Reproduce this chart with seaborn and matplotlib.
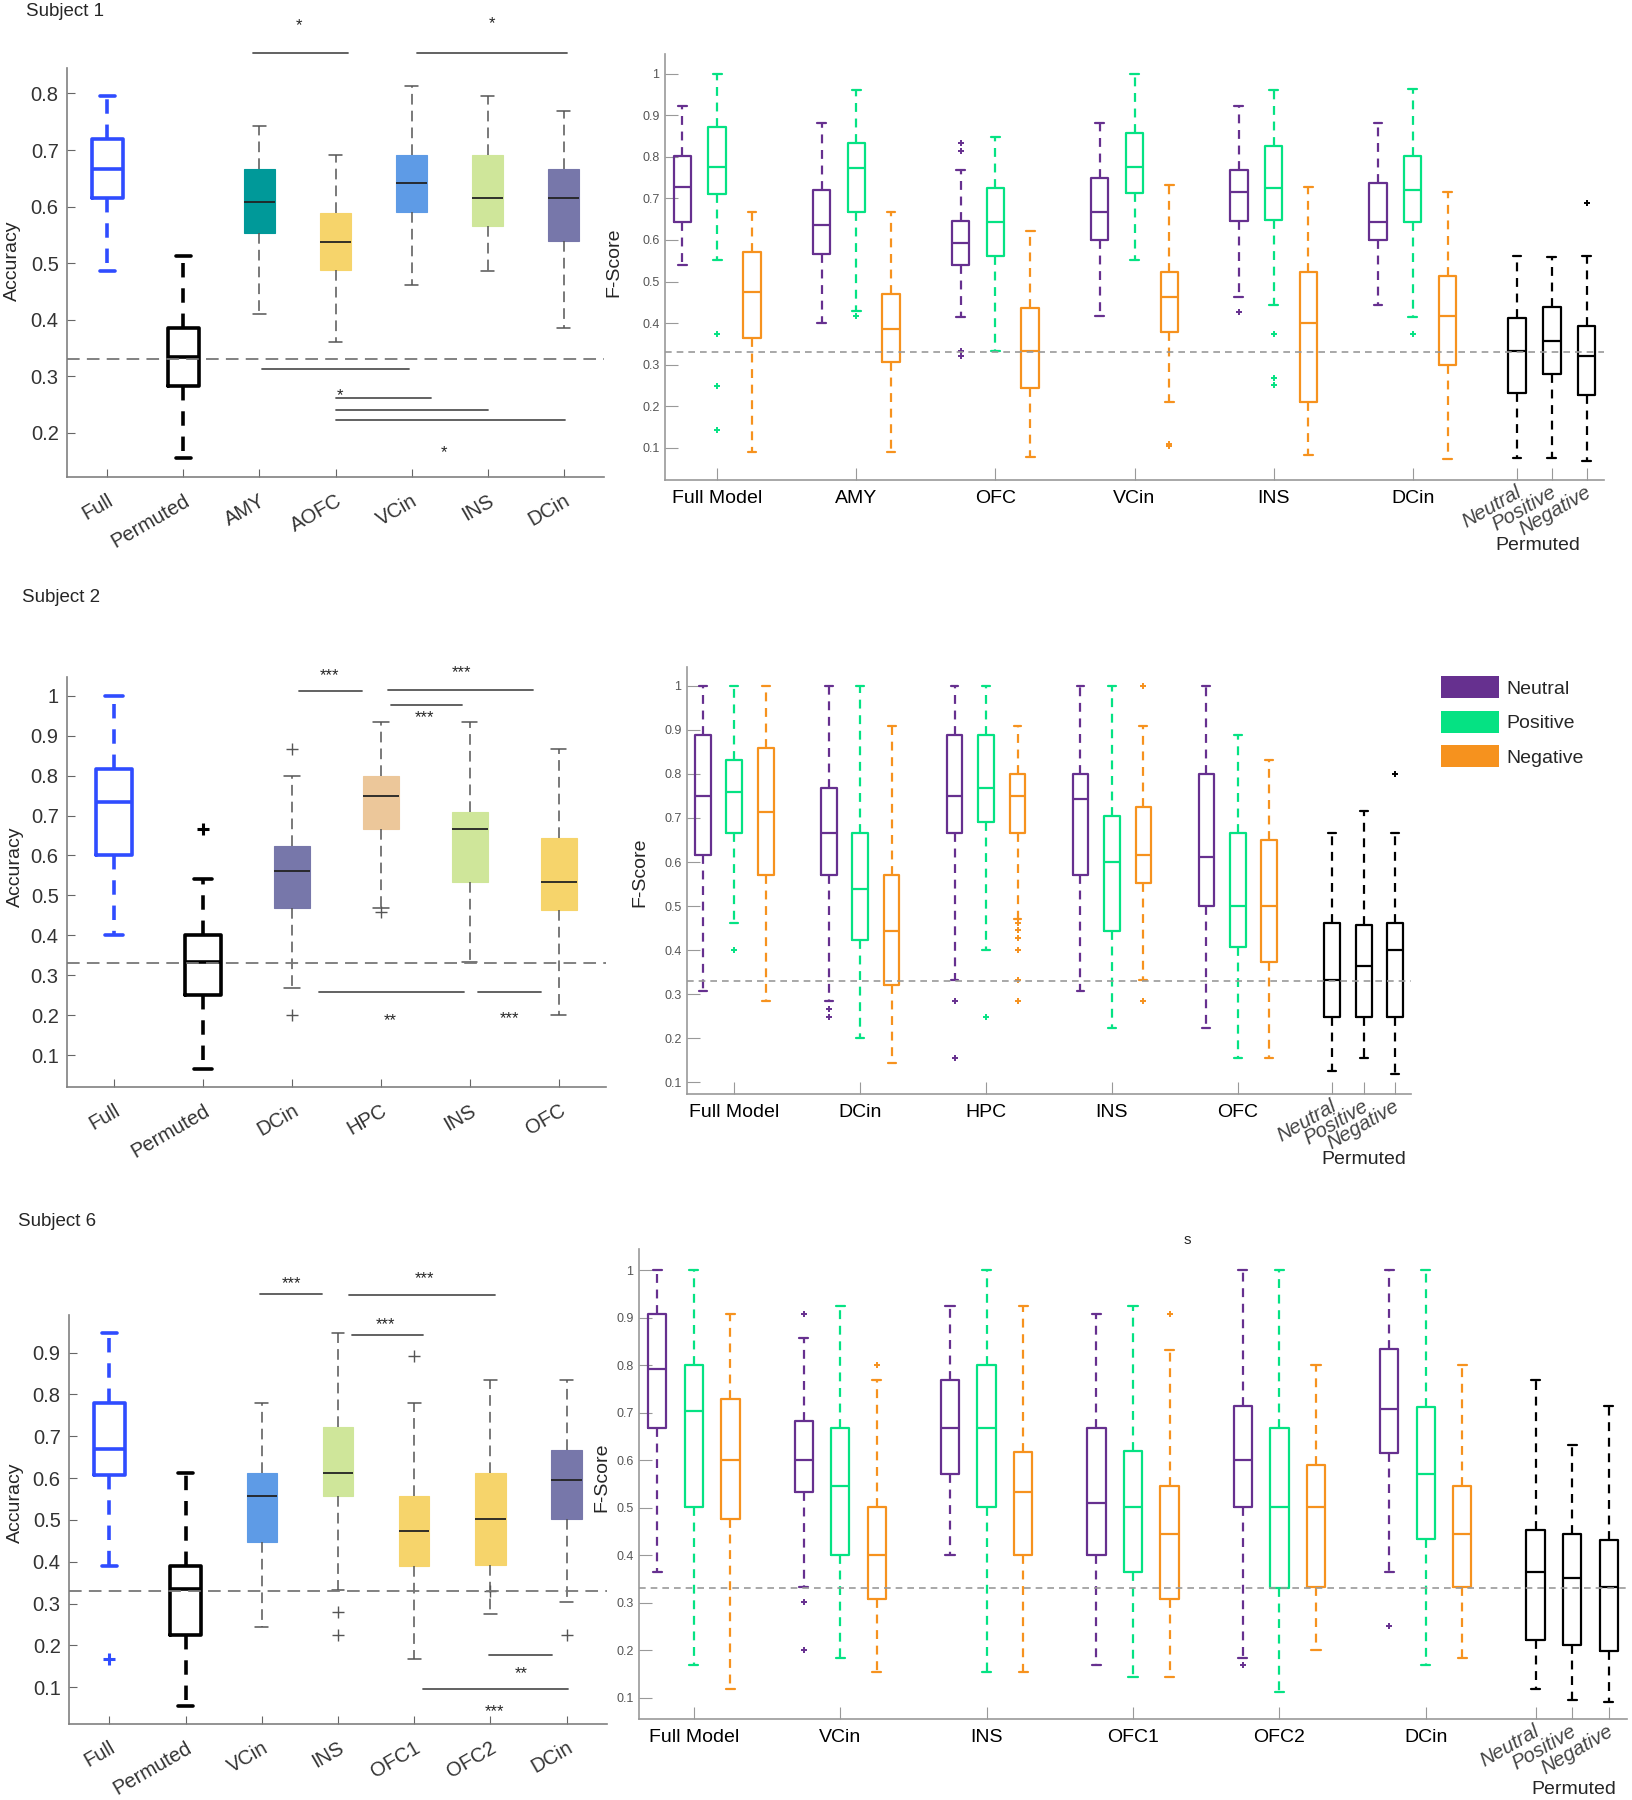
import numpy as np
import matplotlib
matplotlib.use("Agg")
import matplotlib.pyplot as plt
import matplotlib.transforms as mtransforms
from matplotlib.patches import Patch
import seaborn as sns

sns.set_style("ticks")
plt.rcParams["font.family"] = ["Liberation Sans", "DejaVu Sans"]

W, H = 1632, 1800

# colours
BLUE = "#2F4CFF"
TEAL = "#009999"
YELLOW = "#F6D46B"
SKY = "#5E9BE6"
LIME = "#CFE69A"
SLATE = "#7777AA"
TAN = "#ECC79A"
PURPLE = "#66308F"
GREEN = "#05E283"
ORANGE = "#F6921E"

# ---------------- data: [whisker low, q1, median, q3, whisker high] ----------------
# Subject 1 accuracy
s1_acc_labels = ["Full", "Permuted", "AMY", "AOFC", "VCin", "INS", "DCin"]
s1_acc_stats = [
    [0.487, 0.616, 0.667, 0.719, 0.795],
    [0.155, 0.283, 0.334, 0.386, 0.513],
    [0.411, 0.553, 0.609, 0.666, 0.743],
    [0.360, 0.488, 0.538, 0.589, 0.692],
    [0.462, 0.590, 0.642, 0.692, 0.813],
    [0.487, 0.565, 0.616, 0.692, 0.795],
    [0.385, 0.539, 0.616, 0.666, 0.769],
]
s1_acc_out = [[], [], [], [], [], [], []]
s1_acc_fill = [BLUE, "black", TEAL, YELLOW, SKY, LIME, SLATE]
# brackets: x0, x1, y, stars, star x, star y
s1_brackets = [
    (2.92, 4.16, 0.871, "*", 3.52, 0.929),
    (5.07, 7.05, 0.872, "*", 6.06, 0.932),
    (3.04, 4.96, 0.3136, "", 0, 0),
    (4.01, 5.25, 0.2625, "*", 4.06, 0.2745),
    (4.01, 6.00, 0.241, "", 0, 0),
    (4.01, 7.02, 0.2227, "*", 5.42, 0.175),
]

# Subject 1 F-score
s1_f_groups = ["Full Model", "AMY", "OFC", "VCin", "INS", "DCin"]
s1_f_neutral = [
    [0.540, 0.644, 0.728, 0.801, 0.923],
    [0.400, 0.567, 0.637, 0.720, 0.881],
    [0.416, 0.540, 0.592, 0.646, 0.769],
    [0.417, 0.600, 0.667, 0.750, 0.881],
    [0.462, 0.645, 0.715, 0.769, 0.923],
    [0.444, 0.600, 0.643, 0.737, 0.881],
]
s1_f_neutral_out = [[], [], [0.834, 0.815, 0.334, 0.321], [], [0.428], []]
s1_f_positive = [
    [0.552, 0.710, 0.775, 0.871, 1.0],
    [0.429, 0.667, 0.773, 0.834, 0.961],
    [0.332, 0.562, 0.642, 0.725, 0.848],
    [0.552, 0.712, 0.775, 0.856, 1.0],
    [0.444, 0.649, 0.725, 0.827, 0.961],
    [0.414, 0.644, 0.720, 0.801, 0.964],
]
s1_f_positive_out = [[0.375, 0.250, 0.143], [0.417], [], [], [0.375, 0.268, 0.251], [0.375]]
s1_f_negative = [
    [0.090, 0.364, 0.475, 0.571, 0.667],
    [0.090, 0.307, 0.385, 0.469, 0.667],
    [0.079, 0.245, 0.333, 0.436, 0.621],
    [0.210, 0.378, 0.463, 0.522, 0.733],
    [0.083, 0.210, 0.400, 0.522, 0.728],
    [0.074, 0.299, 0.417, 0.514, 0.715],
]
s1_f_negative_out = [[], [], [], [0.110, 0.104], [], []]
s1_f_perm = [
    [0.077, 0.233, 0.333, 0.413, 0.561],
    [0.077, 0.278, 0.357, 0.438, 0.559],
    [0.068, 0.227, 0.320, 0.394, 0.562],
]
s1_f_perm_out = [[], [], [0.690]]

# Subject 2 accuracy
s2_acc_labels = ["Full", "Permuted", "DCin", "HPC", "INS", "OFC"]
s2_acc_stats = [
    [0.400, 0.600, 0.734, 0.817, 1.0],
    [0.066, 0.250, 0.334, 0.400, 0.542],
    [0.267, 0.468, 0.562, 0.624, 0.800],
    [0.468, 0.667, 0.750, 0.800, 0.934],
    [0.333, 0.533, 0.666, 0.708, 0.934],
    [0.200, 0.463, 0.533, 0.644, 0.867],
]
s2_acc_out = [[], [0.666], [0.867, 0.200], [0.459], [], []]
s2_acc_fill = [BLUE, "black", SLATE, TAN, LIME, YELLOW]
s2_brackets = [
    (3.08, 3.79, 1.0115, "***", 3.42, 1.063),
    (4.08, 5.71, 1.014, "***", 4.90, 1.071),
    (4.11, 4.91, 0.977, "***", 4.49, 0.959),
    (3.30, 4.93, 0.257, "**", 4.10, 0.200),
    (5.09, 5.80, 0.258, "***", 5.45, 0.205),
]

# Subject 2 F-score
s2_f_groups = ["Full Model", "DCin", "HPC", "INS", "OFC"]
s2_f_neutral = [
    [0.308, 0.615, 0.749, 0.889, 1.0],
    [0.285, 0.571, 0.666, 0.769, 1.0],
    [0.333, 0.666, 0.749, 0.889, 1.0],
    [0.308, 0.571, 0.743, 0.800, 1.0],
    [0.222, 0.501, 0.612, 0.800, 1.0],
]
s2_f_neutral_out = [[], [0.266, 0.249], [0.285, 0.154], [], []]
s2_f_positive = [
    [0.461, 0.666, 0.760, 0.832, 1.0],
    [0.200, 0.422, 0.539, 0.666, 1.0],
    [0.400, 0.691, 0.769, 0.889, 1.0],
    [0.222, 0.444, 0.599, 0.705, 1.0],
    [0.154, 0.408, 0.501, 0.666, 0.889],
]
s2_f_positive_out = [[0.400], [], [0.249], [], []]
s2_f_negative = [
    [0.285, 0.571, 0.714, 0.860, 1.0],
    [0.143, 0.320, 0.444, 0.571, 0.909],
    [0.471, 0.666, 0.749, 0.800, 0.909],
    [0.333, 0.552, 0.615, 0.726, 0.909],
    [0.154, 0.373, 0.501, 0.649, 0.832],
]
s2_f_negative_out = [[], [], [0.461, 0.445, 0.428, 0.400, 0.333, 0.285], [1.0, 0.285], []]
s2_f_perm = [
    [0.125, 0.249, 0.333, 0.461, 0.666],
    [0.154, 0.249, 0.363, 0.457, 0.716],
    [0.118, 0.249, 0.400, 0.461, 0.666],
]
s2_f_perm_out = [[], [], [0.800]]

# Subject 6 accuracy
s6_acc_labels = ["Full", "Permuted", "VCin", "INS", "OFC1", "OFC2", "DCin"]
s6_acc_stats = [
    [0.390, 0.6075, 0.669, 0.780, 0.946],
    [0.056, 0.224, 0.334, 0.390, 0.612],
    [0.244, 0.448, 0.557, 0.612, 0.779],
    [0.333, 0.557, 0.612, 0.723, 0.946],
    [0.168, 0.391, 0.474, 0.556, 0.779],
    [0.275, 0.393, 0.502, 0.612, 0.835],
    [0.304, 0.502, 0.595, 0.668, 0.835],
]
s6_acc_out = [[0.167], [], [], [0.279, 0.224], [0.891], [0.331], [0.224]]
s6_acc_fill = [BLUE, "black", SKY, LIME, YELLOW, YELLOW, SLATE]
s6_brackets = [
    (2.97, 3.79, 1.040, "***", 3.39, 1.078),
    (4.14, 6.06, 1.039, "***", 5.13, 1.090),
    (4.19, 5.12, 0.943, "***", 4.62, 0.980),
    (5.98, 6.81, 0.178, "**", 6.40, 0.146),
    (5.12, 7.02, 0.0956, "***", 6.05, 0.054),
]

# Subject 6 F-score
s6_f_groups = ["Full Model", "VCin", "INS", "OFC1", "OFC2", "DCin"]
s6_f_neutral = [
    [0.364, 0.667, 0.792, 0.909, 1.0],
    [0.333, 0.534, 0.601, 0.682, 0.857],
    [0.400, 0.572, 0.667, 0.770, 0.924],
    [0.168, 0.400, 0.510, 0.667, 0.909],
    [0.183, 0.501, 0.601, 0.715, 1.0],
    [0.364, 0.616, 0.708, 0.835, 1.0],
]
s6_f_neutral_out = [[], [0.909, 0.301, 0.201], [], [], [0.168], [0.250]]
s6_f_positive = [
    [0.168, 0.501, 0.703, 0.801, 1.0],
    [0.183, 0.400, 0.546, 0.667, 0.924],
    [0.154, 0.501, 0.667, 0.801, 1.0],
    [0.143, 0.364, 0.501, 0.619, 0.924],
    [0.111, 0.331, 0.501, 0.667, 1.0],
    [0.168, 0.434, 0.572, 0.713, 1.0],
]
s6_f_positive_out = [[], [], [], [], [], []]
s6_f_negative = [
    [0.118, 0.476, 0.601, 0.728, 0.909],
    [0.154, 0.308, 0.400, 0.501, 0.770],
    [0.154, 0.400, 0.534, 0.617, 0.924],
    [0.143, 0.308, 0.445, 0.546, 0.833],
    [0.201, 0.333, 0.501, 0.589, 0.801],
    [0.183, 0.333, 0.445, 0.546, 0.801],
]
s6_f_negative_out = [[], [0.801], [], [0.909], [], []]
s6_f_perm = [
    [0.118, 0.222, 0.364, 0.454, 0.770],
    [0.095, 0.211, 0.353, 0.445, 0.632],
    [0.091, 0.199, 0.333, 0.431, 0.715],
]
s6_f_perm_out = [[], [], []]

chance = 0.33
emotions = ["Neutral", "Positive", "Negative"]


# ---------------- helpers ----------------
def px_rect(l, t, r, b):
    return [l / W, 1 - b / H, (r - l) / W, (b - t) / H]


def open_box(ax, x, five, color, lw, width, capw, dash):
    sns.boxplot(x=[x] * 5, y=five, ax=ax, native_scale=True, orient="x",
                width=width, whis=(0, 100), showfliers=False, fill=False,
                color=color, saturation=1, linewidth=lw, capwidths=capw,
                boxprops=dict(color=color, linewidth=lw),
                medianprops=dict(color=color, linewidth=lw),
                whiskerprops=dict(color=color, linewidth=lw, linestyle=dash),
                capprops=dict(color=color, linewidth=lw))


def filled_box(ax, x, five, fc):
    sns.boxplot(x=[x] * 5, y=five, ax=ax, native_scale=True, orient="x",
                width=0.4, whis=(0, 100), showfliers=False, fill=True,
                color=fc, saturation=1, linecolor=fc, linewidth=0.8, capwidths=0.17,
                boxprops=dict(facecolor=fc, edgecolor=fc, linewidth=0.8),
                medianprops=dict(color="#222222", linewidth=1.3),
                whiskerprops=dict(color="#555555", linewidth=1.1, linestyle=(0, (7, 4))),
                capprops=dict(color="#555555", linewidth=1.1))


def style_axes(ax, spine="#808080"):
    for s in ["top", "right"]:
        ax.spines[s].set_visible(False)
    for s in ["left", "bottom"]:
        ax.spines[s].set_color(spine)
        ax.spines[s].set_linewidth(1.2)
    ax.set_xlabel("")
    ax.set_ylabel("")


def accuracy_panel(ax, labels, stats, outs, fills, brackets, ylim, yticks):
    for i, (five, fc) in enumerate(zip(stats, fills)):
        x = i + 1
        if i < 2:
            open_box(ax, x, five, fc, 2.6, 0.4, 0.2, (0, (4, 3)))
            ax.plot([x] * len(outs[i]), outs[i], "+", color=fc, ms=8, mew=2.2)
        else:
            filled_box(ax, x, five, fc)
            ax.plot([x] * len(outs[i]), outs[i], "+", color="#555555", ms=8, mew=1.0)
    ax.axhline(chance, color="#777777", lw=1.3, ls=(0, (7, 4)), zorder=5)
    star_tr = mtransforms.offset_copy(ax.transData, fig=ax.figure, y=-7, units="points")
    for x0, x1, y, stars, sx, sy in brackets:
        ax.plot([x0, x1], [y, y], color="#555555", lw=1.3, clip_on=False)
        if stars:
            ax.text(sx, sy, stars, ha="center", va="baseline", fontsize=12,
                    transform=star_tr, clip_on=False)
    ax.set_xlim(0.47, len(labels) + 0.53)
    ax.set_ylim(*ylim)
    ax.set_yticks(yticks)
    ax.set_yticklabels([f"{t:g}" for t in yticks])
    ax.set_xticks(range(1, len(labels) + 1))
    ax.set_xticklabels(labels, rotation=30, ha="right", rotation_mode="anchor")
    ax.tick_params(axis="both", direction="in", length=6, color="#666666",
                   labelsize=14.5, labelcolor="#333333")
    ax.tick_params(axis="x", pad=10)
    ax.tick_params(axis="y", pad=6)
    style_axes(ax)


def fscore_panel(ax, groups, neu, neu_o, pos_, pos_o, neg, neg_o, perm, perm_o, ylim, perm_x, perm_y):
    series = [(neu, neu_o, PURPLE), (pos_, pos_o, GREEN), (neg, neg_o, ORANGE)]
    for g in range(len(groups)):
        for k, (st, ou, c) in enumerate(series):
            x = 4 * g + 1 + k
            open_box(ax, x, st[g], c, 1.6, 0.5, 0.25, (0, (4, 3)))
            ax.plot([x] * len(ou[g]), ou[g], "+", color=c, ms=4, mew=1.4)
    base = 4 * len(groups) + 1
    for k in range(3):
        open_box(ax, base + k, perm[k], "black", 1.6, 0.5, 0.25, (0, (4, 3)))
        ax.plot([base + k] * len(perm_o[k]), perm_o[k], "+", color="black", ms=4, mew=1.4)
    ax.axhline(chance, color="#999999", lw=1.2, ls=(0, (4, 3)), zorder=5)
    ax.set_xlim(0.5, base + 2.5)
    ax.set_ylim(*ylim)
    yt = np.round(np.arange(0.1, 1.01, 0.1), 1)
    ax.set_yticks(yt)
    ax.set_yticklabels([f"{t:g}" for t in yt])
    centers = [4 * g + 2 for g in range(len(groups))]
    ax.set_xticks(centers + [base, base + 1, base + 2])
    ax.set_xticklabels(groups + emotions)
    ax.tick_params(axis="both", direction="in", length=9, color="#999999")
    ax.tick_params(axis="y", labelsize=9, labelcolor="#555555", pad=4)
    ax.tick_params(axis="x", labelsize=14, labelcolor="black", pad=7.5)
    shift = mtransforms.ScaledTranslation(-0.02, 0.08, ax.figure.dpi_scale_trans)
    for lab in ax.get_xticklabels()[-3:]:
        lab.set_rotation(30)
        lab.set_ha("right")
        lab.set_va("top")
        lab.set_rotation_mode("anchor")
        lab.set_style("italic")
        lab.set_color("#444444")
        lab.set_fontsize(14.5)
        lab.set_transform(lab.get_transform() + shift)
    style_axes(ax, "#999999")
    tr = mtransforms.blended_transform_factory(ax.transData, ax.figure.transFigure)
    ax.text(perm_x, 1 - perm_y / H, "Permuted", transform=tr, ha="center", va="center",
            fontsize=14)


fig = plt.figure(figsize=(W / 100, H / 100), dpi=100)

# Subject 1
ax = fig.add_axes(px_rect(67, 68, 604, 477))
accuracy_panel(ax, s1_acc_labels, s1_acc_stats, s1_acc_out, s1_acc_fill, s1_brackets,
               (0.122, 0.845), [0.2, 0.3, 0.4, 0.5, 0.6, 0.7, 0.8])
ax = fig.add_axes(px_rect(665, 54, 1604, 480))
fscore_panel(ax, s1_f_groups, s1_f_neutral, s1_f_neutral_out, s1_f_positive, s1_f_positive_out,
             s1_f_negative, s1_f_negative_out, s1_f_perm, s1_f_perm_out, (0.023, 1.047), 25.6, 545)

# Subject 2
ax = fig.add_axes(px_rect(67, 677, 606, 1087))
accuracy_panel(ax, s2_acc_labels, s2_acc_stats, s2_acc_out, s2_acc_fill, s2_brackets,
               (0.02, 1.047), [0.1, 0.2, 0.3, 0.4, 0.5, 0.6, 0.7, 0.8, 0.9, 1.0])
ax = fig.add_axes(px_rect(687, 667, 1411, 1094))
fscore_panel(ax, s2_f_groups, s2_f_neutral, s2_f_neutral_out, s2_f_positive, s2_f_positive_out,
             s2_f_negative, s2_f_negative_out, s2_f_perm, s2_f_perm_out, (0.073, 1.043), 22.0, 1160)
handles = [Patch(facecolor=c, edgecolor="none", label=l)
           for c, l in zip([PURPLE, GREEN, ORANGE], emotions)]
fig.legend(handles=handles, loc="upper left", bbox_to_anchor=(1441 / W, 1 - 676 / H),
           frameon=False, fontsize=14, handlelength=3.0, handleheight=1.4,
           labelspacing=0.62, handletextpad=0.35, borderpad=0, borderaxespad=0)

# Subject 6
ax = fig.add_axes(px_rect(69, 1315, 607, 1724))
accuracy_panel(ax, s6_acc_labels, s6_acc_stats, s6_acc_out, s6_acc_fill, s6_brackets,
               (0.012, 0.99), [0.1, 0.2, 0.3, 0.4, 0.5, 0.6, 0.7, 0.8, 0.9])
ax = fig.add_axes(px_rect(639, 1249, 1627, 1719))
fscore_panel(ax, s6_f_groups, s6_f_neutral, s6_f_neutral_out, s6_f_positive, s6_f_positive_out,
             s6_f_negative, s6_f_negative_out, s6_f_perm, s6_f_perm_out, (0.055, 1.045), 26.05, 1789)

# titles and axis labels
for x, y, t in [(26, 12, "Subject 1"), (22, 597, "Subject 2"), (18, 1222, "Subject 6")]:
    fig.text(x / W, 1 - y / H, t, ha="left", va="center", fontsize=13.5)
for x, y in [(12, 261), (15, 867), (15, 1503)]:
    fig.text(x / W, 1 - y / H, "Accuracy", rotation=90, ha="center", va="center", fontsize=14)
for x, y in [(614, 262), (640, 872), (602, 1477)]:
    fig.text(x / W, 1 - y / H, "F-Score", rotation=90, ha="center", va="center", fontsize=14)
fig.text(1187 / W, 1 - 1240 / H, "s", ha="center", va="center", fontsize=11)

fig.savefig("out.png", dpi=100)
